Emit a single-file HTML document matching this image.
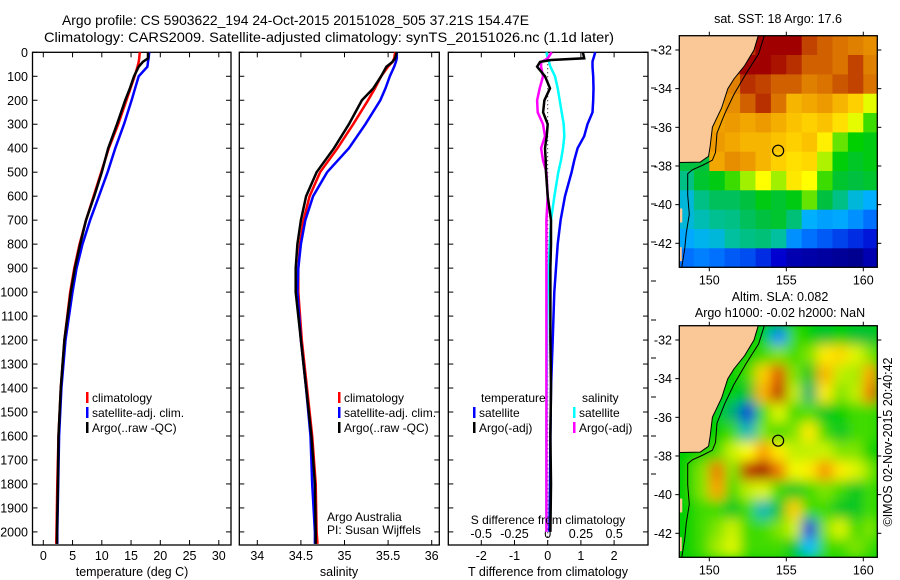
<!DOCTYPE html>
<html><head><meta charset="utf-8"><style>
html,body{margin:0;padding:0;background:#fff}
svg{display:block;font-family:"Liberation Sans",sans-serif}
text{fill:#000}
</style></head><body>
<svg id="fig" width="900" height="580" viewBox="0 0 900 580">
<defs>
<clipPath id="c1"><rect x="679.3" y="35.7" width="198" height="231.6"/></clipPath>
<clipPath id="c2"><rect x="679.3" y="325.7" width="198" height="231.6"/></clipPath>
<filter id="bl" x="-0.2" y="-0.2" width="1.4" height="1.4"><feGaussianBlur stdDeviation="6"/></filter>
</defs>
<g font-size="14">
<text x="62" y="25" textLength="467" lengthAdjust="spacingAndGlyphs">Argo profile: CS 5903622_194 24-Oct-2015 20151028_505 37.21S 154.47E</text>
<text x="44" y="42" textLength="570" lengthAdjust="spacingAndGlyphs">Climatology: CARS2009. Satellite-adjusted climatology: synTS_20151026.nc (1.1d later)</text>
</g>
<g id="p1"></g>
<g id="p2"></g>
<g id="p3"></g>
<g id="m1"></g>
<g id="m2"></g>
<g font-size="12.5" text-anchor="middle">
<text x="778" y="23">sat. SST: 18 Argo: 17.6</text>
<text x="780" y="301">Altim. SLA: 0.082</text>
<text x="780" y="317">Argo h1000: -0.02 h2000: NaN</text>
</g>
<text x="0" y="0" font-size="12.5" text-anchor="middle" transform="translate(892,442) rotate(-90)">©IMOS 02-Nov-2015 20:40:42</text>
</svg>
<script>
// ---- profile data ----
const tDepth = [0,25,40,60,100,150,200,300,400,500,600,700,800,900,1000,1200,1400,1600,1800,2000,2050];
const tClim  = [16.5,16.4,16.3,16.1,15.6,14.9,14.2,12.8,11.2,9.9,8.6,7.3,6.2,5.3,4.6,3.6,3.0,2.6,2.4,2.25,2.2];
const tSat   = [18.1,18.0,17.9,17.8,16.3,15.7,15.1,13.8,12.3,11.0,9.5,8.0,6.7,5.7,5.0,3.8,3.1,2.7,2.55,2.4,2.4];
const tArgo  = [17.9,17.9,17.0,16.3,15.5,14.8,14.0,12.6,11.1,10.0,8.7,7.3,6.3,5.4,4.7,3.6,3.0,2.6,2.5,2.35,2.35];
const sClim  = [35.58,35.57,35.55,35.5,35.42,35.35,35.27,35.1,34.92,34.72,34.6,34.53,34.49,34.47,34.47,34.51,34.57,34.63,34.67,34.68,34.69];
const sSat   = [35.6,35.6,35.59,35.57,35.52,35.47,35.41,35.24,35.05,34.8,34.64,34.55,34.5,34.47,34.46,34.5,34.56,34.61,34.63,34.66,34.66];
const sArgo  = [35.6,35.58,35.55,35.48,35.42,35.33,35.2,35.05,34.88,34.68,34.56,34.5,34.46,34.44,34.44,34.5,34.56,34.62,34.66,34.67,34.67];
const dDepth = [0,25,32,40,60,100,150,200,250,300,350,400,450,500,600,700,800,900,1000,1200,1400,1600,1800,2000];
const dTsat  = [1.43,1.38,1.36,1.35,1.35,1.37,1.38,1.37,1.35,1.2,1.1,0.9,0.8,0.72,0.52,0.39,0.3,0.25,0.2,0.15,0.1,0.08,0.07,0.05];
const dTargo = [1.06,1.1,0.1,-0.23,-0.32,-0.08,0.07,-0.1,-0.14,0.0,-0.03,-0.08,-0.06,-0.05,0.0,0.1,0.1,0.08,0.08,0.08,0.1,0.08,0.1,0.08];
const dSsat  = [-0.01,0.0,0.005,0.01,0.02,0.055,0.075,0.09,0.105,0.12,0.125,0.115,0.1,0.08,0.05,0.025,0.015,0.008,0.0,-0.005,-0.008,-0.01,-0.01,-0.01];
const dSargo = [0.03,0.0,-0.02,-0.05,-0.05,-0.035,-0.06,-0.08,-0.075,-0.035,-0.02,-0.05,-0.035,-0.01,0.0,-0.01,-0.01,-0.01,-0.01,-0.01,-0.01,-0.01,-0.01,-0.01];
const depthTicks = [0,100,200,300,400,500,600,700,800,900,1000,1100,1200,1300,1400,1500,1600,1700,1800,1900,2000];
const tTicks = [0,5,10,15,20,25,30];
const sTicks = [34,34.5,35,35.5,36];
const tdTicks = [-2,-1,0,1,2];
const sdTicks = [-0.5,-0.25,0,0.25,0.5];
const sdLabels = ["-0.5","-0.25","0","0.25","0.5"];
// ---- map data (1-degree cells, lon 148..161, rows from -31.26 southward) ----
const sstRow0=[.9,.9,.9,.9,.9,1.0,1.0,.95,.88,.85,.82,.8,.78];
const sstRow1=[.9,.9,.9,.9,.95,.95,.93,.9,.85,.85,.82,.88,.8];
const sstRow2=[.8,.8,.8,.8,.9,.88,.85,.85,.8,.82,.86,.88,.82];
const sstRow3=[.75,.75,.75,.78,.85,.9,.82,.72,.74,.76,.72,.68,.6];
const sstRow4=[.75,.75,.75,.76,.74,.76,.73,.7,.68,.7,.66,.6,.5];
const sstRow5=[.75,.75,.76,.74,.72,.72,.7,.68,.7,.64,.52,.47,.45];
const sstRow6=[.4,.4,.74,.78,.76,.72,.68,.66,.67,.56,.46,.43,.45];
const sstRow7=[.35,.42,.45,.5,.55,.62,.55,.65,.62,.5,.42,.4,.42];
const sstRow8=[.3,.35,.38,.38,.4,.45,.42,.45,.52,.4,.35,.3,.28];
const sstRow9=[.3,.32,.34,.35,.38,.4,.42,.36,.28,.26,.27,.24,.2];
const sstRow10=[.27,.29,.3,.33,.35,.36,.33,.24,.2,.18,.16,.14,.12];
const sstRow11=[.2,.22,.2,.18,.17,.14,.1,.06,.05,.04,.03,.02,.06];
const slaRow0=[.45,.45,.45,.45,.45,.45,.2,.5,.45,.4,.45,.4,.4];
const slaRow1=[.45,.45,.45,.45,.45,.5,.55,.5,.55,.72,.74,.65,.55];
const slaRow2=[.45,.45,.45,.45,.5,.75,.9,.55,.42,.78,.6,.58,.8];
const slaRow3=[.45,.45,.45,.45,.4,.78,.95,.6,.35,.72,.55,.6,.85];
const slaRow4=[.45,.45,.45,.35,.1,.5,.65,.5,.52,.42,.45,.5,.5];
const slaRow5=[.45,.45,.45,.5,.3,.55,.5,.55,.72,.5,.42,.5,.5];
const slaRow6=[.45,.45,.5,.62,.7,.8,.72,.6,.6,.62,.55,.55,.45];
const slaRow7=[.45,.55,.85,.55,.95,1.0,.85,.68,.72,.82,.72,.65,.55];
const slaRow8=[.45,.55,.8,.5,.6,.65,.5,.42,.5,.55,.5,.42,.5];
const slaRow9=[.45,.5,.5,.42,.5,.3,.42,.75,.5,.5,.42,.42,.5];
const slaRow10=[.45,.5,.55,.62,.5,.5,.55,.62,.1,.55,.65,.5,.55];
const slaRow11=[.45,.5,.58,.65,.5,.5,.5,.42,.25,.5,.5,.55,.5];
const lonTicks=[150,155,160];
const latTicks=[-32,-34,-36,-38,-40,-42];
const argoLon=154.47, argoLat=-37.21;
const coast=[[148,-31.2],[153.2,-31.2],[152.9,-32],[152.3,-32.8],[151.6,-33.5],[151.2,-34],[150.8,-35],[150.2,-36],[150.05,-37],[149.95,-37.5],[149.4,-37.8],[148,-37.82]];
const shelf=[[153.6,-31.2],[153.2,-32.2],[152.4,-33.2],[151.6,-34.3],[151,-35.3],[150.5,-36.3],[150.4,-37.3],[150.2,-37.7],[149.6,-37.95],[148.9,-38.2],[148.6,-38.4],[148.6,-39.5],[148.7,-40.5],[148.5,-41.5],[148.4,-42.3],[148.2,-43.3]];

const NS="http://www.w3.org/2000/svg";
function el(tag,attrs,parent){const e=document.createElementNS(NS,tag);for(const k in attrs)e.setAttribute(k,attrs[k]);parent.appendChild(e);return e;}
const yD=d=>52.3+d*0.2398;
const BOT=545, TOP=52.3;
const FS=12;

function frame(g,x0,x1){
  const r=el('rect',{x:x0,y:TOP,width:x1-x0,height:BOT-TOP,fill:'none',stroke:'#000','stroke-width':1.3},g);
  
  
  depthTicks.forEach(d=>{
    const t1=el('line',{x1:x0,x2:x0+5,y1:yD(d),y2:yD(d),stroke:'#000'},g);
    
    
    const t2=el('line',{x1:x1-5,x2:x1,y1:yD(d),y2:yD(d),stroke:'#000'},g);
    
    
  });
}
function xTicks(g,ticks,fx,labels){
  ticks.forEach((v,i)=>{
    const a=el('line',{x1:fx(v),x2:fx(v),y1:BOT,y2:BOT-5,stroke:'#000'},g);
    
    
    const b=el('line',{x1:fx(v),x2:fx(v),y1:TOP,y2:TOP+5,stroke:'#000'},g);
    
    
    const t=el('text',{x:fx(v),y:560,'font-size':12.5,'text-anchor':'middle'},g);
    t.textContent=labels?labels[i]:String(v);
    
    
  });
}
function line(g,xs,ds,fx,color,name,w){
  const pts=xs.map((v,i)=>fx(v).toFixed(1)+','+yD(ds[i]).toFixed(1)).join(' ');
  const p=el('polyline',{points:pts,fill:'none',stroke:color,'stroke-width':w||2.5,'stroke-linejoin':'miter'},g);
  
  
}
function legend(g,x,y,color,label){
  const m=el('rect',{x:x,y:y-10,width:2.5,height:11,fill:color},g);
  
  
  const t=el('text',{x:x+6,y:y,'font-size':FS},g);
  t.textContent=label;
  
  
}

// Panel 1
const p1=document.getElementById('p1');
const xT=t=>43.3+t*5.85;
frame(p1,32.5,231);
depthTicks.forEach(d=>{const t=el('text',{x:28,y:yD(d)+4.5,'font-size':12.5,'text-anchor':'end'},p1);t.textContent=d;

});
xTicks(p1,tTicks,xT);
line(p1,tClim,tDepth,xT,'#ff0000','temperature-climatology-line');
line(p1,tSat,tDepth,xT,'#0000ff','temperature-satellite-line');
line(p1,tArgo,tDepth,xT,'#000000','temperature-argo-line');
legend(p1,86,402,'#ff0000','climatology');
legend(p1,86,417,'#0000ff','satellite-adj. clim.');
legend(p1,86,432,'#000000','Argo(..raw -QC)');
let tx=el('text',{x:132,y:576,'font-size':12.5,'text-anchor':'middle'},p1);tx.textContent='temperature (deg C)';



// Panel 2
const p2=document.getElementById('p2');
const xS=s=>257.3+(s-34)*87.2;
frame(p2,239.3,439.3);
xTicks(p2,sTicks,xS);
line(p2,sClim,tDepth,xS,'#ff0000','salinity-climatology-line');
line(p2,sSat,tDepth,xS,'#0000ff','salinity-satellite-line');
line(p2,sArgo,tDepth,xS,'#000000','salinity-argo-line');
legend(p2,338,402,'#ff0000','climatology');
legend(p2,338,417,'#0000ff','satellite-adj. clim.');
legend(p2,338,432,'#000000','Argo(..raw -QC)');
tx=el('text',{x:327,y:521,'font-size':FS},p2);tx.textContent='Argo Australia';


tx=el('text',{x:327,y:534,'font-size':FS},p2);tx.textContent='PI: Susan Wijffels';


tx=el('text',{x:339,y:576,'font-size':12.5,'text-anchor':'middle'},p2);tx.textContent='salinity';



// Panel 3
const p3=document.getElementById('p3');
const xTD=v=>547.7+v*33.2, xSD=v=>547.7+v*133;
frame(p3,448.3,648);
xTicks(p3,tdTicks,xTD);
sdTicks.forEach((v,i)=>{const t=el('text',{x:xSD(v),y:538,'font-size':12.5,'text-anchor':'middle'},p3);t.textContent=sdLabels[i];

});
[50,88,127,166,204,242,281,320,358,397,436,474].forEach(y=>{const t=el('line',{x1:651,x2:656,y1:y,y2:y,stroke:'#000'},p3);

});
const z=el('line',{x1:xTD(0),x2:xTD(0),y1:TOP,y2:BOT,stroke:'#000','stroke-dasharray':'1 3'},p3);


line(p3,dTsat,dDepth,xTD,'#0000ff','t-satellite-diff-line');
line(p3,dSsat,dDepth,xSD,'#00ffff','s-satellite-diff-line');
line(p3,dSargo,dDepth,xSD,'#ff00ff','s-argo-diff-line');
line(p3,dTargo,dDepth,xTD,'#000000','t-argo-diff-line');
tx=el('text',{x:481,y:402,'font-size':FS},p3);tx.textContent='temperature';


tx=el('text',{x:582,y:402,'font-size':FS},p3);tx.textContent='salinity';


legend(p3,473,417,'#0000ff','satellite');
legend(p3,573,417,'#00ffff','satellite');
legend(p3,473,432,'#000000','Argo(-adj)');
legend(p3,573,432,'#ff00ff','Argo(-adj)');
tx=el('text',{x:548,y:524,'font-size':FS,'text-anchor':'middle'},p3);tx.textContent='S difference from climatology';


tx=el('text',{x:548,y:576,'font-size':12.5,'text-anchor':'middle'},p3);tx.textContent='T difference from climatology';



// colormaps
function cmap(stops,v){
  v=Math.max(0,Math.min(1,v));
  for(let i=1;i<stops.length;i++){if(v<=stops[i][0]){const a=stops[i-1],b=stops[i],f=(v-a[0])/(b[0]-a[0]||1);
    const c=[0,1,2].map(k=>Math.round(a[1][k]+(b[1][k]-a[1][k])*f));return 'rgb('+c.join(',')+')';}}
  const l=stops[stops.length-1][1];return 'rgb('+l.join(',')+')';
}
const jet=[[0,[0,0,128]],[0.1,[0,0,208]],[0.2,[0,112,255]],[0.28,[0,176,255]],[0.33,[0,192,160]],[0.4,[0,192,64]],[0.47,[0,208,0]],[0.55,[160,240,0]],[0.62,[255,255,0]],[0.68,[255,208,0]],[0.75,[240,160,0]],[0.85,[208,96,0]],[0.95,[160,0,0]],[1,[160,0,0]]];
const slaMap=[[0,[0,0,143]],[0.15,[0,80,255]],[0.25,[0,192,255]],[0.35,[0,176,112]],[0.45,[0,208,0]],[0.6,[192,240,0]],[0.7,[255,255,0]],[0.8,[255,160,0]],[0.9,[224,80,0]],[1,[160,0,0]]];

function drawMap(gid,top,rows,stops,clip,blur){
  const g=document.getElementById(gid);
  const lonX=l=>709.3+(l-150)*15.4, latY=a=>top+14.3+(-32-a)*19.33;
  const latTop=-32+14.3/19.33;
  const cg=el('g',{'clip-path':'url(#'+clip+')'},g);
  if(blur){const bg=el('rect',{x:679.3,y:top,width:198,height:231.6,fill:cmap(stops,0.45)},cg);
    
    }
  const hg=el('g',blur?{filter:'url(#bl)'}:{},cg);
  rows.forEach((row,r)=>row.forEach((v,c)=>{
    const cell=el('rect',{x:lonX(148+c).toFixed(1),y:latY(latTop-r).toFixed(1),width:15.9,height:19.8,fill:cmap(stops,v)},hg);
    
    
  }));
  const land=el('polygon',{points:coast.map(p=>lonX(p[0]).toFixed(1)+','+latY(p[1]).toFixed(1)).join(' '),fill:'#f9c896',stroke:'#000','stroke-width':1},cg);
  
  
  [[-40.2,3],[-42.2,2.5]].forEach(t=>{const tl=el('rect',{x:679.3,y:latY(t[0]),width:t[1],height:14,fill:'#f9c896'},cg);
    
    });
  const sh=el('polyline',{points:shelf.map(p=>lonX(p[0]).toFixed(1)+','+latY(p[1]).toFixed(1)).join(' '),fill:'none',stroke:'#000','stroke-width':1},cg);
  
  
  const fr=el('rect',{x:679.3,y:top,width:198,height:231.6,fill:'none',stroke:'#000','stroke-width':1.3},g);
  
  
  const ci=el('circle',{cx:lonX(argoLon),cy:latY(argoLat),r:5.5,fill:'none',stroke:'#000','stroke-width':1.2},g);
  
  
  lonTicks.forEach(l=>{
    [[top-4,top],[top+231.6,top+235.6]].forEach(yy=>{const t=el('line',{x1:lonX(l),x2:lonX(l),y1:yy[0],y2:yy[1],stroke:'#000'},g);
      
      });
    const t=el('text',{x:lonX(l),y:top+249,'font-size':12.5,'text-anchor':'middle'},g);t.textContent=l;
    
    
  });
  latTicks.forEach(a=>{
    [[675.3,679.3],[877.3,881.3]].forEach(xx=>{const t=el('line',{x1:xx[0],x2:xx[1],y1:latY(a),y2:latY(a),stroke:'#000'},g);
      
      });
    const t=el('text',{x:672,y:latY(a)+4.5,'font-size':12.5,'text-anchor':'end'},g);t.textContent=a;
    
    
  });
}
const sstRows=[sstRow0,sstRow1,sstRow2,sstRow3,sstRow4,sstRow5,sstRow6,sstRow7,sstRow8,sstRow9,sstRow10,sstRow11];
const slaRows=[slaRow0,slaRow1,slaRow2,slaRow3,slaRow4,slaRow5,slaRow6,slaRow7,slaRow8,slaRow9,slaRow10,slaRow11];
drawMap('m1',35.7,sstRows,jet,'c1',false);
drawMap('m2',325.7,slaRows,slaMap,'c2',true);
</script>
</body></html>
